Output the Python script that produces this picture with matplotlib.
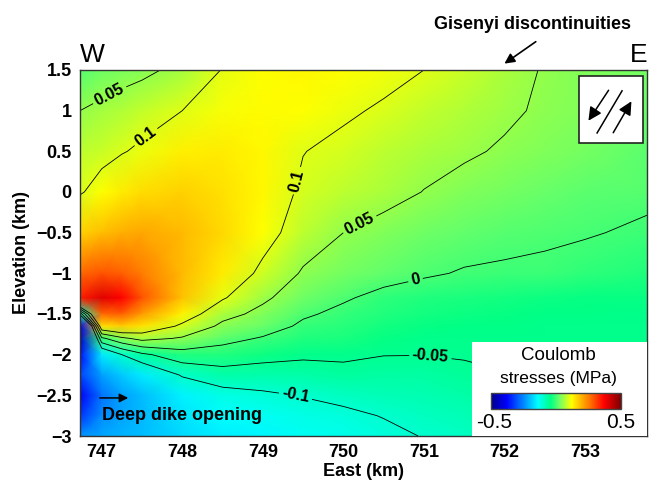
import numpy as np
import matplotlib
matplotlib.use("Agg")
import matplotlib.pyplot as plt
from matplotlib.colors import LinearSegmentedColormap
from matplotlib.patches import Rectangle
from matplotlib.ticker import FuncFormatter

plt.rcParams['font.family'] = ['Liberation Sans', 'DejaVu Sans']

# grid nodes (km)
east_km = [746.73, 747.0, 747.25, 747.5, 748.0, 748.5, 749.0, 749.5,
           750.0, 750.5, 751.0, 751.5, 752.0, 752.5, 753.0, 753.77]
elev_km = [1.5, 1.0, 0.5, 0.0, -0.5, -1.0, -1.3, -1.5, -1.65, -1.8,
           -2.0, -2.25, -2.5, -2.75, -3.0]

# Coulomb stress change (MPa), one row per elevation, west -> east
stress = [
    [0.010, 0.025, 0.033, 0.040, 0.062, 0.102, 0.120, 0.125, 0.120, 0.112, 0.100, 0.083, 0.065, 0.047, 0.037, 0.028],
    [0.050, 0.060, 0.070, 0.080, 0.100, 0.115, 0.123, 0.118, 0.106, 0.095, 0.082, 0.070, 0.056, 0.045, 0.036, 0.022],
    [0.075, 0.085, 0.097, 0.108, 0.135, 0.140, 0.125, 0.101, 0.090, 0.075, 0.064, 0.055, 0.046, 0.037, 0.030, 0.014],
    [0.095, 0.120, 0.140, 0.155, 0.165, 0.150, 0.125, 0.093, 0.078, 0.064, 0.049, 0.038, 0.028, 0.020, 0.013, 0.008],
    [0.165, 0.185, 0.200, 0.210, 0.190, 0.160, 0.120, 0.075, 0.050, 0.036, 0.025, 0.017, 0.010, 0.005, 0.003, -0.006],
    [0.270, 0.290, 0.280, 0.250, 0.190, 0.140, 0.088, 0.045, 0.028, 0.016, 0.005, -0.003, -0.005, -0.006, -0.015, -0.020],
    [0.340, 0.400, 0.370, 0.290, 0.180, 0.105, 0.058, 0.025, 0.005, -0.012, -0.020, -0.026, -0.030, -0.033, -0.036, -0.038],
    [-0.080, 0.270, 0.280, 0.220, 0.130, 0.065, 0.038, 0.006, -0.010, -0.022, -0.030, -0.034, -0.037, -0.040, -0.042, -0.043],
    [-0.400, 0.150, 0.170, 0.145, 0.090, 0.040, 0.022, -0.008, -0.018, -0.030, -0.036, -0.040, -0.042, -0.044, -0.045, -0.046],
    [-0.430, -0.010, 0.040, 0.065, 0.045, 0.015, -0.004, -0.020, -0.027, -0.039, -0.043, -0.044, -0.044, -0.044, -0.045, -0.046],
    [-0.370, -0.160, -0.100, -0.060, -0.020, -0.022, -0.035, -0.043, -0.043, -0.049, -0.0495, -0.047, -0.046, -0.045, -0.045, -0.045],
    [-0.320, -0.230, -0.190, -0.160, -0.095, -0.070, -0.072, -0.070, -0.062, -0.066, -0.064, -0.058, -0.051, -0.049, -0.048, -0.048],
    [-0.390, -0.270, -0.230, -0.200, -0.150, -0.120, -0.108, -0.098, -0.088, -0.082, -0.077, -0.070, -0.056, -0.053, -0.052, -0.052],
    [-0.330, -0.250, -0.225, -0.205, -0.165, -0.140, -0.130, -0.118, -0.110, -0.098, -0.089, -0.080, -0.062, -0.057, -0.055, -0.055],
    [-0.240, -0.220, -0.210, -0.200, -0.175, -0.155, -0.145, -0.130, -0.125, -0.112, -0.098, -0.090, -0.068, -0.060, -0.058, -0.058],
]

levels = [-0.1, -0.05, 0, 0.05, 0.1]
label_spots = [(747.13, 1.13), (747.56, 0.66), (749.38, 0.15), (750.21, -0.41),
               (750.90, -1.1), (751.08, -2.03), (749.4, -2.53)]

cmap = LinearSegmentedColormap.from_list('stress', [
    (0.00, (0.0, 0.0, 0.56)),
    (0.12, (0.0, 0.0, 1.0)),
    (0.36, (0.0, 1.0, 1.0)),
    (0.46, (0.0, 1.0, 0.52)),
    (0.52, (0.4, 1.0, 0.42)),
    (0.62, (1.0, 1.0, 0.0)),
    (0.75, (1.0, 0.5, 0.0)),
    (0.87, (1.0, 0.0, 0.0)),
    (1.00, (0.5, 0.0, 0.0)),
])

fig = plt.figure(figsize=(6.53, 4.83), dpi=100)
ax = fig.add_axes([0.1225, 0.0973, 0.8683, 0.7578])

X, Y = np.meshgrid(east_km, elev_km)
Z = np.array(stress)
mesh = ax.pcolormesh(X, Y, Z, cmap=cmap, vmin=-0.5, vmax=0.5, shading='gouraud')
cs = ax.contour(X, Y, Z, levels=levels, colors='k', linewidths=0.6,
                linestyles='solid')
labels = ax.clabel(cs, manual=label_spots, fmt=lambda v: f'{v:g}',
                   fontsize=11.5, inline=True, inline_spacing=3)
for t in labels:
    t.set_fontweight('bold')

ax.set_xlim(746.73, 753.77)
ax.set_ylim(-3, 1.5)
ax.set_xticks(range(747, 754))
ax.set_yticks(np.arange(-3, 1.51, 0.5))
ax.yaxis.set_major_formatter(FuncFormatter(lambda v, p: f'{v:g}'.replace('-', '\u2212')))
ax.tick_params(length=0, labelsize=13, pad=6)
for lab in ax.get_xticklabels() + ax.get_yticklabels():
    lab.set_fontweight('bold')
ax.set_xlabel('East (km)', fontsize=13, fontweight='bold', labelpad=1)
ax.set_ylabel('Elevation (km)', fontsize=13, fontweight='bold', labelpad=4)
for s in ax.spines.values():
    s.set_linewidth(1.0)
    s.set_color('#333333')

# direction labels and the discontinuity pointer
fig.text(0.1225, 0.872, 'W', fontsize=19, ha='left', va='baseline')
fig.text(0.992, 0.872, 'E', fontsize=19, ha='right', va='baseline')
fig.text(0.815, 0.950, 'Gisenyi discontinuities', fontsize=13,
         fontweight='bold', ha='center', va='center')
ax.annotate('', xy=(0.769, 0.865), xytext=(0.824, 0.917),
            xycoords='figure fraction', textcoords='figure fraction',
            arrowprops=dict(arrowstyle='-|>', color='k', lw=1.2, mutation_scale=15))

# fault slip sense symbol
ax.add_patch(Rectangle((0.880, 0.800), 0.113, 0.184, transform=ax.transAxes,
                       facecolor='white', edgecolor='#222222', lw=1.2, zorder=5))
ax.annotate('', xy=(0.894, 0.855), xytext=(0.935, 0.951), xycoords='axes fraction',
            arrowprops=dict(arrowstyle='-|>', color='k', lw=1.1, mutation_scale=20), zorder=6)
ax.annotate('', xy=(0.975, 0.921), xytext=(0.938, 0.822), xycoords='axes fraction',
            arrowprops=dict(arrowstyle='-|>', color='k', lw=1.1, mutation_scale=20), zorder=6)
ax.plot([0.956, 0.912], [0.943, 0.828], transform=ax.transAxes, color='k', lw=1.1, zorder=6)

# dike annotation
ax.annotate('', xy=(0.090, 0.104), xytext=(0.030, 0.104), xycoords='axes fraction',
            arrowprops=dict(arrowstyle='-|>', color='k', lw=1.1, mutation_scale=13))
ax.text(0.039, 0.057, 'Deep dike opening', transform=ax.transAxes, fontsize=13,
        fontweight='bold', ha='left', va='center')

# colour scale panel
ax.add_patch(Rectangle((0.691, 0.0), 0.309, 0.257, transform=ax.transAxes,
                       facecolor='white', edgecolor='none', zorder=5))
ax.text(0.843, 0.221, 'Coulomb', transform=ax.transAxes, fontsize=13.5,
        ha='center', va='center', zorder=6)
ax.text(0.843, 0.156, 'stresses (MPa)', transform=ax.transAxes, fontsize=12.5,
        ha='center', va='center', zorder=6)
ax.text(0.730, 0.036, '-0.5', transform=ax.transAxes, fontsize=15,
        ha='center', va='center', zorder=6)
ax.text(0.954, 0.036, '0.5', transform=ax.transAxes, fontsize=15,
        ha='center', va='center', zorder=6)
cax = fig.add_axes([0.752, 0.153, 0.199, 0.033])
cb = fig.colorbar(mesh, cax=cax, orientation='horizontal')
cb.set_ticks([])
cb.outline.set_edgecolor('#444444')
cb.outline.set_linewidth(1.0)

fig.savefig('out.png', dpi=100)
